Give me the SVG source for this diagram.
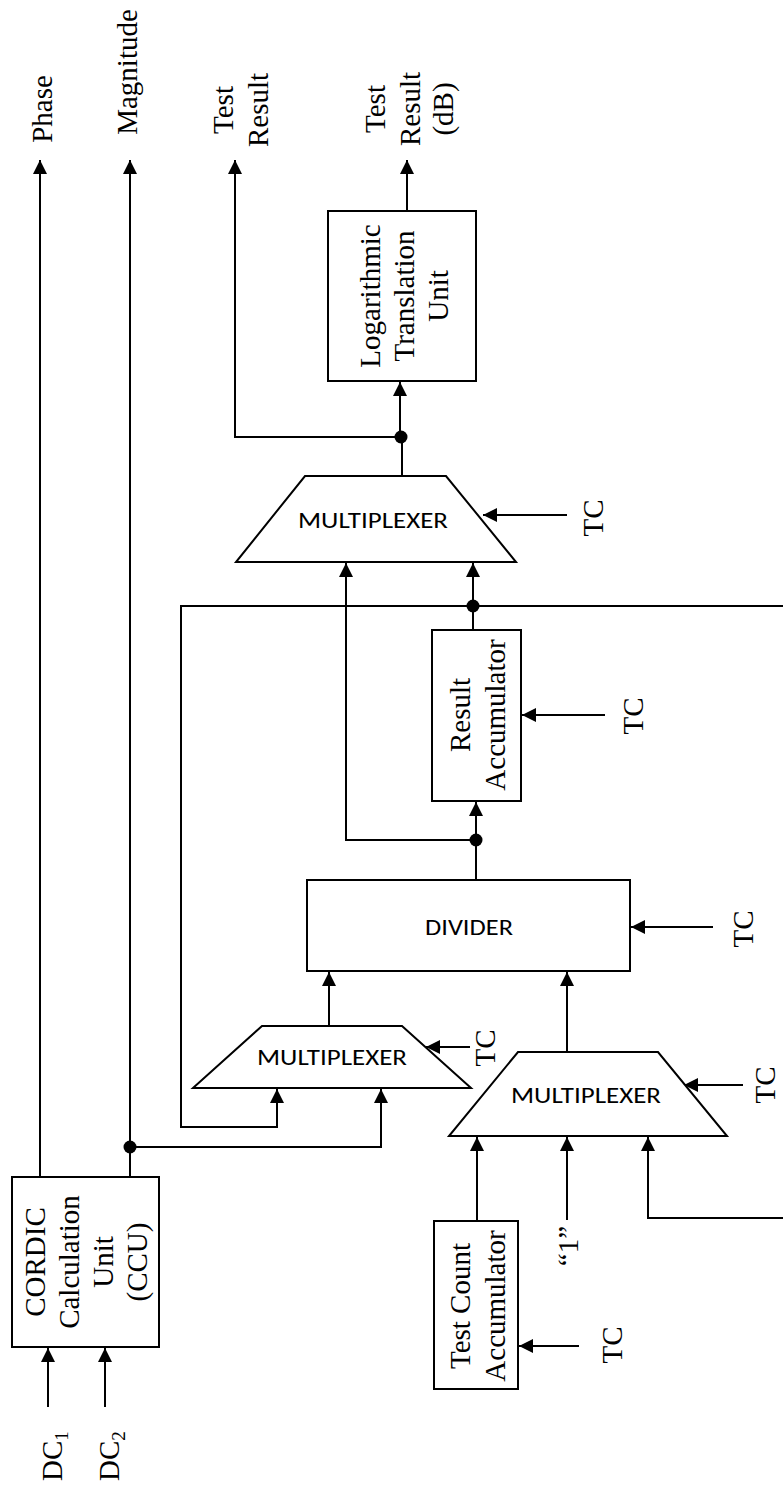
<svg xmlns="http://www.w3.org/2000/svg" width="783" height="1487" viewBox="0 0 783 1487">
<style>
.ln{fill:none;stroke:#000;stroke-width:2}
.bx{fill:#fff;stroke:#000;stroke-width:2}
.t{font-family:"Liberation Serif","Times New Roman",serif;font-size:29px;fill:#000}
.s{font-family:Carlito,"Liberation Sans",Arial,sans-serif;font-size:23px;fill:#000}
.dot{fill:#000}
</style>
<defs>
<marker id="ah" markerUnits="userSpaceOnUse" markerWidth="14" markerHeight="14" refX="13" refY="6.5" orient="auto" viewBox="0 0 13 13">
<path d="M0,0 L13,6.5 L0,13 z" fill="#000"/>
</marker>
</defs>
<rect width="783" height="1487" fill="#fff"/>

<g id="connectors">
<path class="ln" d="M40,1177 V160" marker-end="url(#ah)"/>
<path class="ln" d="M130,1177 V160" marker-end="url(#ah)"/>
<path class="ln" d="M130,1147 H381 V1089" marker-end="url(#ah)"/>
<path class="ln" d="M48,1407 V1348" marker-end="url(#ah)"/>
<path class="ln" d="M105,1407 V1348" marker-end="url(#ah)"/>
<path class="ln" d="M783,606 H181 V1127 H277 V1089" marker-end="url(#ah)"/>
<path class="ln" d="M783,1218 H648 V1137" marker-end="url(#ah)"/>
<path class="ln" d="M329,1026 V972" marker-end="url(#ah)"/>
<path class="ln" d="M567,1052 V972" marker-end="url(#ah)"/>
<path class="ln" d="M477,1221 V1137" marker-end="url(#ah)"/>
<path class="ln" d="M567,1220 V1137" marker-end="url(#ah)"/>
<path class="ln" d="M476,880 V802" marker-end="url(#ah)"/>
<path class="ln" d="M476,840 H346 V563" marker-end="url(#ah)"/>
<path class="ln" d="M473,630 V563" marker-end="url(#ah)"/>
<path class="ln" d="M402,476 V437 H400 V382" marker-end="url(#ah)"/>
<path class="ln" d="M401,437 H235 V160" marker-end="url(#ah)"/>
<path class="ln" d="M407,211 V160" marker-end="url(#ah)"/>
<path class="ln" d="M567,515 H483" marker-end="url(#ah)"/>
<path class="ln" d="M605,715 H522" marker-end="url(#ah)"/>
<path class="ln" d="M713,927 H631" marker-end="url(#ah)"/>
<path class="ln" d="M470,1047 H426" marker-end="url(#ah)"/>
<path class="ln" d="M743,1085 H684" marker-end="url(#ah)"/>
<path class="ln" d="M579,1346 H519" marker-end="url(#ah)"/>
<circle class="dot" cx="130" cy="1147" r="6.5"/>
<circle class="dot" cx="473" cy="606" r="6.5"/>
<circle class="dot" cx="476" cy="840" r="6.5"/>
<circle class="dot" cx="401" cy="437" r="6.5"/>
</g>

<g id="cordic">
<rect class="bx" x="12" y="1177" width="147" height="170"/>
<text class="t" text-anchor="middle" transform="translate(45,1262) rotate(-90)">CORDIC</text>
<text class="t" text-anchor="middle" transform="translate(79,1262) rotate(-90)">Calculation</text>
<text class="t" text-anchor="middle" transform="translate(113,1262) rotate(-90)">Unit</text>
<text class="t" text-anchor="middle" transform="translate(147,1262) rotate(-90)">(CCU)</text>
</g>

<g id="dc-labels">
<text class="t" transform="translate(62,1481) rotate(-90)">DC<tspan font-size="19" dy="6">1</tspan></text>
<text class="t" transform="translate(119,1481) rotate(-90)">DC<tspan font-size="19" dy="6">2</tspan></text>
</g>

<g id="out-labels">
<text class="t" text-anchor="middle" transform="translate(52,109) rotate(-90)">Phase</text>
<text class="t" text-anchor="middle" transform="translate(137,72) rotate(-90)">Magnitude</text>
<text class="t" text-anchor="middle" transform="translate(233,110) rotate(-90)">Test</text>
<text class="t" text-anchor="middle" transform="translate(268,110) rotate(-90)">Result</text>
<text class="t" text-anchor="middle" transform="translate(385,109) rotate(-90)">Test</text>
<text class="t" text-anchor="middle" transform="translate(420,109) rotate(-90)">Result</text>
<text class="t" text-anchor="middle" transform="translate(453,109) rotate(-90)">(dB)</text>
</g>

<g id="log-unit">
<rect class="bx" x="328" y="211" width="148" height="170"/>
<text class="t" text-anchor="middle" transform="translate(380,296) rotate(-90)">Logarithmic</text>
<text class="t" text-anchor="middle" transform="translate(414,296) rotate(-90)">Translation</text>
<text class="t" text-anchor="middle" transform="translate(448,296) rotate(-90)">Unit</text>
</g>

<g id="mux-top">
<path class="bx" d="M305,476 H446 L516,562 H236 Z"/>
<text class="s" text-anchor="middle" x="373" y="528" textLength="150" lengthAdjust="spacingAndGlyphs">MULTIPLEXER</text>
<text class="t" text-anchor="middle" transform="translate(603,518) rotate(-90)">TC</text>
</g>

<g id="result-accumulator">
<rect class="bx" x="432" y="630" width="89" height="171"/>
<text class="t" text-anchor="middle" transform="translate(470,715) rotate(-90)">Result</text>
<text class="t" text-anchor="middle" transform="translate(505,715) rotate(-90)">Accumulator</text>
<text class="t" text-anchor="middle" transform="translate(643,716) rotate(-90)">TC</text>
</g>

<g id="divider">
<rect class="bx" x="307" y="880" width="323" height="91"/>
<text class="s" text-anchor="middle" x="469" y="935" textLength="88" lengthAdjust="spacingAndGlyphs">DIVIDER</text>
<text class="t" text-anchor="middle" transform="translate(753,929) rotate(-90)">TC</text>
</g>

<g id="mux-left">
<path class="bx" d="M262,1026 H402 L471,1088 H193 Z"/>
<text class="s" text-anchor="middle" x="332" y="1065" textLength="150" lengthAdjust="spacingAndGlyphs">MULTIPLEXER</text>
<text class="t" text-anchor="middle" transform="translate(495,1048) rotate(-90)">TC</text>
</g>

<g id="mux-right">
<path class="bx" d="M518,1052 H658 L727,1136 H449 Z"/>
<text class="s" text-anchor="middle" x="586" y="1103" textLength="150" lengthAdjust="spacingAndGlyphs">MULTIPLEXER</text>
<text class="t" text-anchor="middle" transform="translate(775,1085) rotate(-90)">TC</text>
</g>

<g id="one-label">
<text class="t" text-anchor="middle" transform="translate(578,1246) rotate(-90)">“1”</text>
</g>

<g id="test-count-accumulator">
<rect class="bx" x="434" y="1221" width="84" height="168"/>
<text class="t" text-anchor="middle" transform="translate(470,1306) rotate(-90)">Test Count</text>
<text class="t" text-anchor="middle" transform="translate(505,1306) rotate(-90)">Accumulator</text>
<text class="t" text-anchor="middle" transform="translate(622,1345) rotate(-90)">TC</text>
</g>
</svg>
